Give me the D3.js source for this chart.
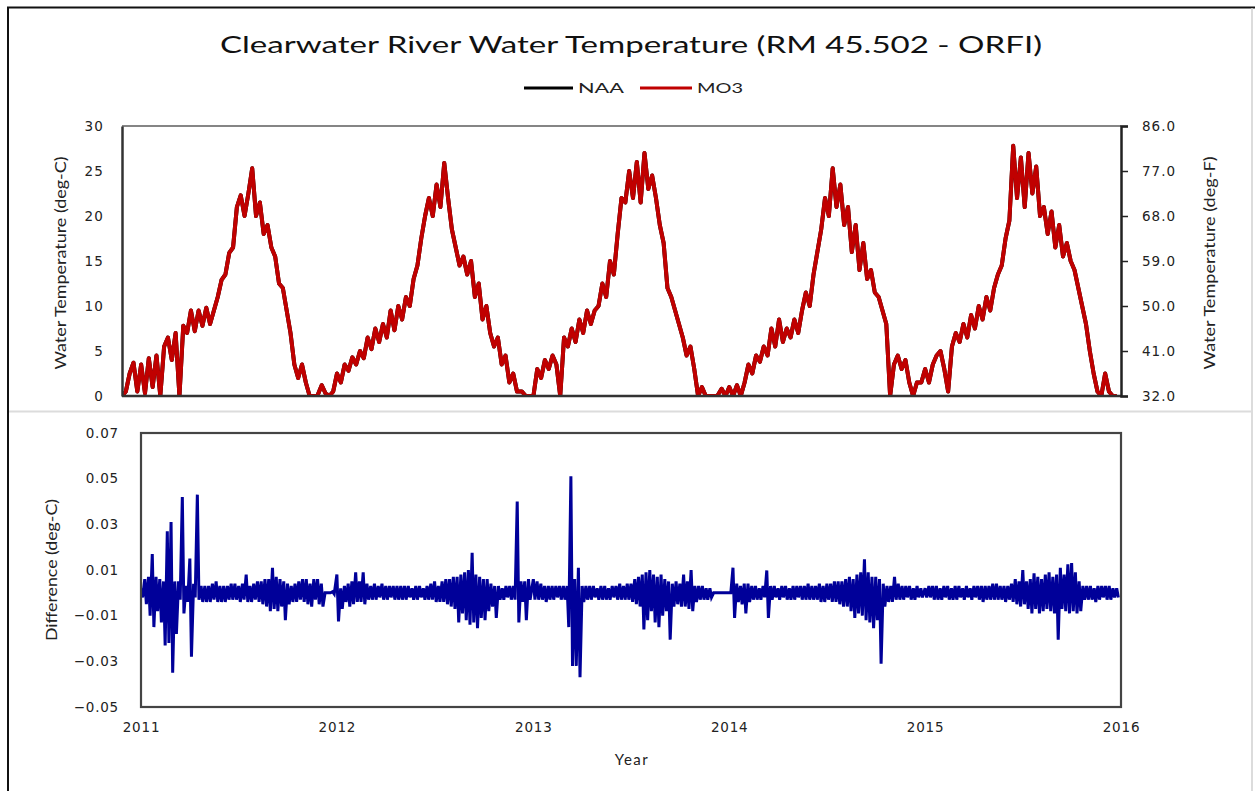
<!DOCTYPE html>
<html><head><meta charset="utf-8">
<script src="https://cdn.jsdelivr.net/npm/d3@7/dist/d3.min.js"></script>
<style>
html,body{margin:0;padding:0;background:#fff;}
svg{display:block;}
</style></head>
<body>
<svg id="chart" width="1255" height="791"></svg>
<script>
// ---------- DATA (weekly readings, deg-C) ----------
const years = [2011, 2012, 2013, 2014, 2015];
const tempTicksC = [0, 5, 10, 15, 20, 25, 30];
const tempTicksF = [32, 41, 50, 59, 68, 77, 86];
const diffTicks = [-0.05, -0.03, -0.01, 0.01, 0.03, 0.05, 0.07];
const seriesNames = ["NAA", "MO3"];

const temp2011 = [0,0.5,2.5,3.7,0.5,3.5,0.3,4.2,1,4.5,0,5.5,6.5,4,7,0,7.8,7,9.5,7.2,9.5,7.8,9.8,8,9.5,11,12.9,13.5,15.9,16.5,21,22.3,20,22.5,25.3,20,21.5,18,19,16.5,15.5,12.5,12,9.5,7,3.5,2,3.5,1.5,0,0,0];
const temp2012 = [1.2,0.3,0,0.5,2.5,1.5,3.5,2.8,4.3,3.5,5,4.2,6.5,5.2,7.5,6,8,6.5,9.5,7.3,10,8.5,11,10,13,14.5,17.5,20,22,20,23.5,21,25.9,22,18.5,16.5,14.5,15.5,13.5,15,11,12.5,8.5,10,7,5.5,6.5,3.5,4.5,1.5,2.5,0.5];
const temp2013 = [0.5,0,0,0,3,2,4,3,4.5,3.5,0,6.5,5.5,7.5,6,8.5,7,9.5,8,9.5,10,12.5,11,15,13.5,18,22,21.5,25,22,26,21.5,27,23,24.5,22,19,17,12,11,9.5,8,6.5,4.5,5.5,3,0,1,0,0,0,0];
const temp2014 = [0.8,0,1,0,1.2,0,1.5,3.5,2.5,4.5,3.8,5.5,4.5,7.5,5.5,8.5,6,7.5,6.5,8.5,7,9.5,11.5,10,13.5,16,18.5,22,20,25.3,21,23.5,19,21,16,19,14,17,13,14,11.5,11,9.5,8,0,3.5,4.5,3,4,1.5,0,1.5];
const temp2015 = [1.5,3,1.5,3.5,4.5,5,3,0.5,5.5,7,6,8,6.5,9,7.5,10,8.5,11,9.5,12,13.5,14.5,17.5,19.5,27.8,22,26.5,21,27,22.5,25.5,20,21,18,20.5,16.5,19,15.5,17,15,14,12,10,8,5,2.5,0.5,0,2.5,0.5,0,0];

// weekly high / low of difference MO3 - NAA (deg-C)
const diffHi2011 = [0.002,0.006,0.007,0.017,0.007,0.006,0.005,0.027,0.031,0.005,0.005,0.042,0.003,0.015,0.004,0.043,0.003,0.003,0.003,0.004,0.005,0.003,0.003,0.003,0.004,0.004,0.003,0.004,0.008,0.003,0.004,0.005,0.005,0.006,0.006,0.011,0.007,0.006,0.005,0.004,0.003,0.004,0.005,0.006,0.006,0.004,0.006,0.006,0.004,0,0,0.0005];
const diffLo2011 = [-0.002,-0.005,-0.01,-0.015,-0.008,-0.013,-0.023,-0.022,-0.035,-0.018,-0.003,-0.009,-0.004,-0.028,-0.002,-0.003,-0.004,-0.004,-0.004,-0.003,-0.004,-0.004,-0.004,-0.003,-0.003,-0.003,-0.004,-0.003,-0.004,-0.004,-0.003,-0.004,-0.005,-0.006,-0.008,-0.007,-0.008,-0.006,-0.012,-0.005,-0.004,-0.004,-0.003,-0.004,-0.005,-0.006,-0.003,-0.005,-0.006,0,0,-0.0005];
const diffHi2012 = [0.008,0.002,0.003,0.004,0.005,0.009,0.005,0.009,0.004,0.003,0.004,0.003,0.004,0.003,0.003,0.003,0.003,0.003,0.003,0.003,0.002,0.003,0.003,0.002,0.003,0.004,0.005,0.003,0.005,0.006,0.006,0.007,0.007,0.008,0.009,0.01,0.0175,0.008,0.007,0.006,0.006,0.004,0.003,0.003,0.002,0.003,0.003,0.003,0.040,0.005,0.005,0.006];
const diffLo2012 = [-0.0125,-0.007,-0.004,-0.006,-0.005,-0.004,-0.004,-0.005,-0.003,-0.003,-0.003,-0.002,-0.003,-0.003,-0.002,-0.003,-0.003,-0.003,-0.003,-0.002,-0.003,-0.003,-0.002,-0.003,-0.003,-0.003,-0.004,-0.004,-0.004,-0.005,-0.006,-0.007,-0.013,-0.009,-0.012,-0.014,-0.013,-0.0155,-0.011,-0.012,-0.008,-0.006,-0.011,-0.003,-0.003,-0.002,-0.003,-0.003,-0.013,-0.004,-0.012,-0.003];
const diffHi2013 = [0.006,0.005,0.004,0.003,0.003,0.003,0.003,0.003,0.003,0.003,0.051,0.006,0.011,0.003,0.003,0.003,0.003,0.002,0.003,0.003,0.002,0.003,0.003,0.004,0.003,0.004,0.004,0.006,0.007,0.008,0.009,0.01,0.008,0.007,0.008,0.006,0.005,0.004,0.005,0.004,0.008,0.005,0.01,0.003,0.003,0.003,0.002,0.002,0,0,0,0];
const diffLo2013 = [-0.003,-0.003,-0.003,-0.004,-0.003,-0.003,-0.002,-0.003,-0.003,-0.015,-0.032,-0.032,-0.037,-0.004,-0.003,-0.003,-0.002,-0.003,-0.003,-0.003,-0.003,-0.002,-0.003,-0.003,-0.003,-0.003,-0.004,-0.005,-0.006,-0.016,-0.012,-0.008,-0.013,-0.015,-0.01,-0.008,-0.0205,-0.006,-0.005,-0.006,-0.006,-0.007,-0.008,-0.004,-0.003,-0.003,-0.003,-0.002,0,0,0,0];
const diffHi2014 = [0,0.011,0.004,0.003,0.004,0.004,0.003,0.003,0.002,0.003,0.0098,0.003,0.003,0.002,0.003,0.003,0.002,0.003,0.003,0.003,0.003,0.004,0.003,0.003,0.004,0.003,0.004,0.004,0.005,0.005,0.005,0.006,0.007,0.006,0.008,0.009,0.0147,0.009,0.007,0.007,0.006,0.004,0.003,0.003,0.007,0.004,0.003,0.003,0.003,0.002,0.003,0.002];
const diffLo2014 = [0,-0.011,-0.004,-0.005,-0.009,-0.004,-0.003,-0.003,-0.003,-0.002,-0.011,-0.003,-0.002,-0.003,-0.002,-0.003,-0.003,-0.003,-0.002,-0.003,-0.003,-0.003,-0.003,-0.003,-0.004,-0.004,-0.003,-0.004,-0.004,-0.005,-0.006,-0.006,-0.008,-0.011,-0.009,-0.01,-0.012,-0.013,-0.0155,-0.012,-0.031,-0.006,-0.004,-0.004,-0.003,-0.003,-0.003,-0.002,-0.003,-0.003,-0.002,-0.002];
const diffHi2015 = [0.002,0.003,0.003,0.003,0.002,0.003,0.003,0.002,0.003,0.003,0.002,0.003,0.002,0.003,0.003,0.003,0.003,0.003,0.004,0.004,0.003,0.003,0.003,0.004,0.006,0.005,0.01,0.005,0.006,0.0085,0.007,0.006,0.008,0.009,0.007,0.008,0.011,0.008,0.0125,0.013,0.009,0.005,0.003,0.003,0.003,0.002,0.003,0.003,0.003,0.003,0.002,0.002];
const diffLo2015 = [-0.002,-0.002,-0.003,-0.003,-0.003,-0.002,-0.003,-0.003,-0.003,-0.002,-0.003,-0.002,-0.003,-0.002,-0.003,-0.004,-0.003,-0.003,-0.003,-0.003,-0.003,-0.004,-0.003,-0.004,-0.005,-0.006,-0.005,-0.007,-0.009,-0.007,-0.009,-0.008,-0.007,-0.008,-0.009,-0.0205,-0.007,-0.008,-0.009,-0.008,-0.009,-0.008,-0.003,-0.003,-0.003,-0.004,-0.003,-0.002,-0.003,-0.003,-0.002,-0.002];

// ---------- BUILD SERIES ----------
const tempByYear = [temp2011, temp2012, temp2013, temp2014, temp2015];
const hiByYear = [diffHi2011, diffHi2012, diffHi2013, diffHi2014, diffHi2015];
const loByYear = [diffLo2011, diffLo2012, diffLo2013, diffLo2014, diffLo2015];
const weekDate = (y, i, half) => new Date(y, 0, 1 + i * 7 + (half ? 3.5 : 0));

const tempSeries = [];
years.forEach((y, k) => tempByYear[k].forEach((v, i) => tempSeries.push({d: weekDate(y, i, false), v})));
const diffSeries = [];
years.forEach((y, k) => hiByYear[k].forEach((v, i) => {
  diffSeries.push({d: weekDate(y, i, false), v});
  diffSeries.push({d: weekDate(y, i, true), v: loByYear[k][i]});
}));

// ---------- DRAW ----------
const svg = d3.select("#chart");
const font = "Lato, 'Open Sans', sans-serif";
const tickFont = "'DejaVu Sans', sans-serif";

// outer frame
svg.append("line").attr("x1", 7).attr("x2", 1255).attr("y1", 7.5).attr("y2", 7.5).attr("stroke", "#111").attr("stroke-width", 2);
svg.append("line").attr("x1", 8).attr("x2", 8).attr("y1", 7).attr("y2", 791).attr("stroke", "#111").attr("stroke-width", 2);
svg.append("line").attr("x1", 1252).attr("x2", 1252).attr("y1", 8).attr("y2", 791).attr("stroke", "#d0d0d0").attr("stroke-width", 1.5);
svg.append("line").attr("x1", 9).attr("x2", 1252).attr("y1", 411.5).attr("y2", 411.5).attr("stroke", "#dcdcdc").attr("stroke-width", 2);

// title
svg.append("text").attr("x", 220).attr("y", 53).attr("font-family", font).attr("font-size", 23)
  .attr("textLength", 822).attr("lengthAdjust", "spacingAndGlyphs").attr("fill", "#111")
  .text("Clearwater River Water Temperature (RM 45.502 - ORFI)");

// legend
const legendItems = [{name: seriesNames[0], color: "#000", x1: 524, x2: 573, tx: 578}, {name: seriesNames[1], color: "#C00000", x1: 640, x2: 692, tx: 697}];
legendItems.forEach(l => {
  svg.append("line").attr("x1", l.x1).attr("x2", l.x2).attr("y1", 88).attr("y2", 88).attr("stroke", l.color).attr("stroke-width", 3);
  svg.append("text").attr("x", l.tx).attr("y", 93).attr("font-family", font).attr("font-size", 14)
    .attr("textLength", 46).attr("lengthAdjust", "spacingAndGlyphs").attr("fill", "#222").text(l.name);
});

// ---- top chart ----
const T = {l: 122, r: 1121, t: 126, b: 396};
const xTop = d3.scaleTime().domain([new Date(2011, 0, 1), new Date(2016, 0, 1)]).range([T.l, T.r]);
const yC = d3.scaleLinear().domain([0, 30]).range([T.b, T.t]);
const yF = d3.scaleLinear().domain([32, 86]).range([T.b, T.t]);

svg.append("defs").html(`<clipPath id="clipTop"><rect x="${T.l}" y="${T.t - 2}" width="${T.r - T.l}" height="${T.b - T.t + 2}"/></clipPath>
<clipPath id="clipBot"><rect x="141" y="433" width="980" height="274"/></clipPath>`);

svg.append("line").attr("x1", T.l).attr("x2", T.r).attr("y1", T.t).attr("y2", T.t).attr("stroke", "#858585").attr("stroke-width", 2);

const lineT = d3.line().x(d => xTop(d.d)).y(d => yC(d.v));
const gT = svg.append("g").attr("clip-path", "url(#clipTop)");
gT.append("path").datum(tempSeries).attr("d", lineT).attr("fill", "none").attr("stroke", "#000").attr("stroke-width", 4).attr("stroke-linejoin", "round");
gT.append("path").datum(tempSeries).attr("d", lineT).attr("fill", "none").attr("stroke", "#C00000").attr("stroke-width", 4).attr("stroke-linejoin", "round");

// left axis
const axL = svg.append("g").attr("transform", `translate(${T.l},0)`)
  .call(d3.axisLeft(yC).tickValues(tempTicksC).tickSize(0).tickPadding(18));
axL.select(".domain").attr("stroke", "#333").attr("stroke-width", 2.5);
axL.selectAll("text").attr("font-family", tickFont).attr("font-size", 13.5).attr("fill", "#222").attr("letter-spacing", 1.2);

// bottom line of top chart
svg.append("line").attr("x1", T.l).attr("x2", T.r).attr("y1", T.b).attr("y2", T.b).attr("stroke", "#333").attr("stroke-width", 2.5);

// right axis
const axR = svg.append("g").attr("transform", `translate(${T.r},0)`)
  .call(d3.axisRight(yF).tickValues(tempTicksF).tickSize(7).tickPadding(14).tickFormat(d3.format(".1f")));
axR.select(".domain").attr("stroke", "#222").attr("stroke-width", 2.5);
axR.selectAll(".tick line").attr("stroke", "#222").attr("stroke-width", 1.5);
axR.selectAll("text").attr("font-family", tickFont).attr("font-size", 13.5).attr("fill", "#222").attr("letter-spacing", 1);

svg.append("text").attr("transform", "translate(66,263) rotate(-90)").attr("text-anchor", "middle")
  .attr("font-family", font).attr("font-size", 15).attr("fill", "#222")
  .attr("textLength", 213).attr("lengthAdjust", "spacingAndGlyphs").text("Water Temperature (deg-C)");
svg.append("text").attr("transform", "translate(1215,263) rotate(-90)").attr("text-anchor", "middle")
  .attr("font-family", font).attr("font-size", 15).attr("fill", "#222")
  .attr("textLength", 213).attr("lengthAdjust", "spacingAndGlyphs").text("Water Temperature (deg-F)");

// ---- bottom chart ----
const B = {l: 141, r: 1121, t: 433, b: 707};
const xBot = d3.scaleTime().domain([new Date(2011, 0, 1), new Date(2016, 0, 1)]).range([B.l, B.r]);
const yD = d3.scaleLinear().domain([-0.05, 0.07]).range([B.b, B.t]);

const lineD = d3.line().x(d => xBot(d.d)).y(d => yD(d.v));
svg.append("g").attr("clip-path", "url(#clipBot)").append("path").datum(diffSeries).attr("d", lineD)
  .attr("fill", "none").attr("stroke", "#000099").attr("stroke-width", 3).attr("stroke-linejoin", "miter");

svg.append("rect").attr("x", B.l).attr("y", B.t).attr("width", B.r - B.l).attr("height", B.b - B.t)
  .attr("fill", "none").attr("stroke", "#444").attr("stroke-width", 2.2);

const axDL = svg.append("g").attr("transform", `translate(${B.l},0)`)
  .call(d3.axisLeft(yD).tickValues(diffTicks).tickSize(0).tickPadding(22).tickFormat(d3.format(".2f")));
axDL.select(".domain").remove();
axDL.selectAll("text").attr("font-family", tickFont).attr("font-size", 13.5).attr("fill", "#222").attr("letter-spacing", 0.8);

const xTickDates = [...years, 2016].map(y => new Date(y, 0, 1));
const axDB = svg.append("g").attr("transform", `translate(0,${B.b})`)
  .call(d3.axisBottom(xBot).tickValues(xTickDates).tickSize(0).tickPadding(15).tickFormat(d3.timeFormat("%Y")));
axDB.select(".domain").remove();
axDB.selectAll("text").attr("font-family", tickFont).attr("font-size", 13.5).attr("fill", "#222").attr("letter-spacing", 0.8);

svg.append("text").attr("transform", "translate(57,570) rotate(-90)").attr("text-anchor", "middle")
  .attr("font-family", font).attr("font-size", 15).attr("fill", "#222")
  .attr("textLength", 142).attr("lengthAdjust", "spacingAndGlyphs").text("Difference (deg-C)");
svg.append("text").attr("x", 632).attr("y", 765).attr("text-anchor", "middle")
  .attr("font-family", font).attr("font-size", 15).attr("fill", "#222").attr("letter-spacing", 1.5).text("Year");
</script>
</body></html>
